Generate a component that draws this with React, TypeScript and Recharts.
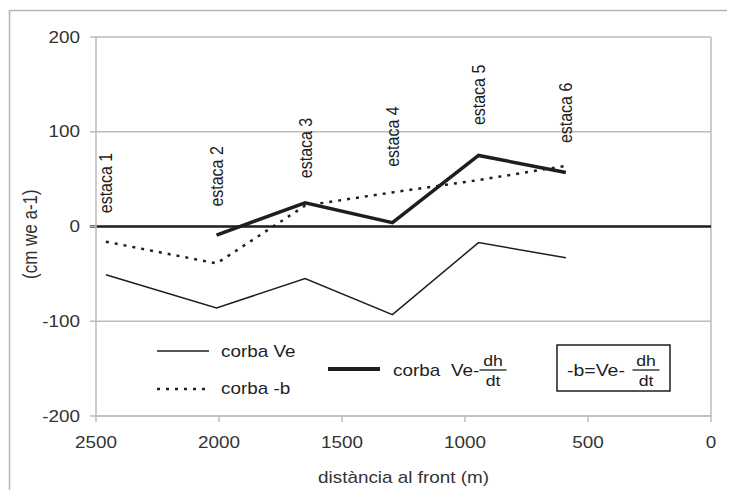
import React from 'react';
import { ComposedChart, Line, Scatter, XAxis, YAxis, CartesianGrid, ReferenceLine } from 'recharts';

// distància al front (m) de cada estaca
const distancies = [2460, 2010, 1650, 1295, 945, 590];
const corbaVe = [-51, -86, -55, -93, -17, -33];
const corbaB = [-16, -39, 22, 36, 49, 64];
const corbaVeDh = [null, -9, 25, 4, 75, 57];
const estaques = ['estaca 1', 'estaca 2', 'estaca 3', 'estaca 4', 'estaca 5', 'estaca 6'];
const estacaLabelY = [14, 21, 51, 63, 107, 88];
const xTicks = [2500, 2000, 1500, 1000, 500, 0];
const yTicks = [200, 100, 0, -100, -200];

const FONT = '"Liberation Sans", Arial, sans-serif';
const SX = 1.18;
const INK = '#1e1e1e';
const GRID = '#bcbcbc';

const data = distancies.map((d, i) => ({ d, ve: corbaVe[i], b: corbaB[i], vdh: corbaVeDh[i] }));
const labels = distancies.map((d, i) => ({ d, y: estacaLabelY[i], name: estaques[i] }));

function XTick({ x, y, payload }: any) {
  return (
    <text transform={`translate(${x},${y}) scale(${SX},1)`} textAnchor="middle" dy="0.71em" fontSize={16} fill="#333" fontFamily={FONT}>
      {payload.value}
    </text>
  );
}

function YTick({ x, y, payload }: any) {
  return (
    <text transform={`translate(${x},${y}) scale(${SX},1)`} textAnchor="end" dy="0.355em" fontSize={16} fill="#333" fontFamily={FONT}>
      {payload.value}
    </text>
  );
}

function XTitle({ viewBox }: any) {
  const { x, y, width } = viewBox;
  return (
    <text transform={`translate(${x + width / 2},${y + 67}) scale(${SX},1)`} textAnchor="middle" fontSize={16} fill="#333" fontFamily={FONT}>
      distància al front (m)
    </text>
  );
}

function EstacaLabel({ cx, cy, payload }: any) {
  return (
    <text transform={`translate(${cx},${cy}) scale(${SX},1) rotate(-90)`} dy="0.35em" fontSize={16} fill={INK} fontFamily={FONT}>
      {payload.name}
    </text>
  );
}

function T({ x, y, size = 16, anchor = 'start', children }: any) {
  return (
    <text transform={`translate(${x},${y}) scale(${SX},1)`} textAnchor={anchor} fontSize={size} fill={INK} fontFamily={FONT}>
      {children}
    </text>
  );
}

function Frac({ cx, y }: any) {
  return (
    <g>
      <T x={cx} y={y - 4} size={15} anchor="middle">dh</T>
      <line x1={cx - 13.5} x2={cx + 13.5} y1={y} y2={y} stroke={INK} strokeWidth={1.3} />
      <T x={cx} y={y + 16} size={15} anchor="middle">dt</T>
    </g>
  );
}

export default function App() {
  return (
    <div style={{ position: 'relative', width: 727, height: 482 }}>
      <ComposedChart width={727} height={482} data={data} margin={{ top: 29, right: 24, left: 0, bottom: 0 }}>
        <CartesianGrid vertical={false} stroke={GRID} strokeWidth={1.5} />
        <XAxis
          type="number"
          dataKey="d"
          domain={[0, 2500]}
          ticks={xTicks}
          reversed
          height={74}
          tickSize={6}
          tickMargin={15}
          axisLine={{ stroke: GRID, strokeWidth: 1.5 }}
          tickLine={{ stroke: GRID, strokeWidth: 1.5 }}
          tick={<XTick />}
          label={<XTitle />}
        />
        <YAxis
          type="number"
          domain={[-200, 200]}
          ticks={yTicks}
          width={88}
          tickSize={6}
          tickMargin={10}
          axisLine={{ stroke: GRID, strokeWidth: 1.5 }}
          tickLine={{ stroke: GRID, strokeWidth: 1.5 }}
          tick={<YTick />}
        />
        <ReferenceLine x={0} stroke={GRID} strokeWidth={1.5} />
        <ReferenceLine segment={[{ x: 2525, y: 0 }, { x: 0, y: 0 }]} ifOverflow="visible" stroke={INK} strokeWidth={2.5} />
        <Line type="linear" dataKey="ve" stroke={INK} strokeWidth={1.5} dot={false} isAnimationActive={false} />
        <Line type="linear" dataKey="b" stroke={INK} strokeWidth={2.5} strokeDasharray="3 6" dot={false} isAnimationActive={false} />
        <Line type="linear" dataKey="vdh" stroke={INK} strokeWidth={3.5} dot={false} isAnimationActive={false} />
        <Scatter data={labels} dataKey="y" shape={<EstacaLabel />} isAnimationActive={false} />
      </ComposedChart>
      <svg width={735} height={490} style={{ position: 'absolute', left: -8, top: -8, pointerEvents: 'none' }}>
        <rect x={9.5} y={10.5} width={722} height={495} fill="none" stroke="#b5b5b5" strokeWidth={1.5} />
        <text transform={`translate(30,279) scale(${SX},1) rotate(-90)`} textAnchor="start" dy="0.35em" fontSize={17} fill="#333" fontFamily={FONT}>
          (cm we a-1)
        </text>
        <line x1={157} x2={209} y1={351} y2={351} stroke={INK} strokeWidth={1.5} />
        <T x={221} y={357}>corba Ve</T>
        <line x1={157} x2={209} y1={389} y2={389} stroke={INK} strokeWidth={2.5} strokeDasharray="3 6" />
        <T x={221} y={394}>corba -b</T>
        <line x1={328} x2={380} y1={369} y2={369} stroke={INK} strokeWidth={4} />
        <T x={393} y={376}>corba</T>
        <T x={451} y={376}>Ve-</T>
        <Frac cx={493} y={370} />
        <rect x={557} y={345} width={113} height={46} fill="none" stroke={INK} strokeWidth={1.5} />
        <T x={567} y={376} size={16.5}>-b=Ve-</T>
        <Frac cx={646} y={370} />
      </svg>
    </div>
  );
}
